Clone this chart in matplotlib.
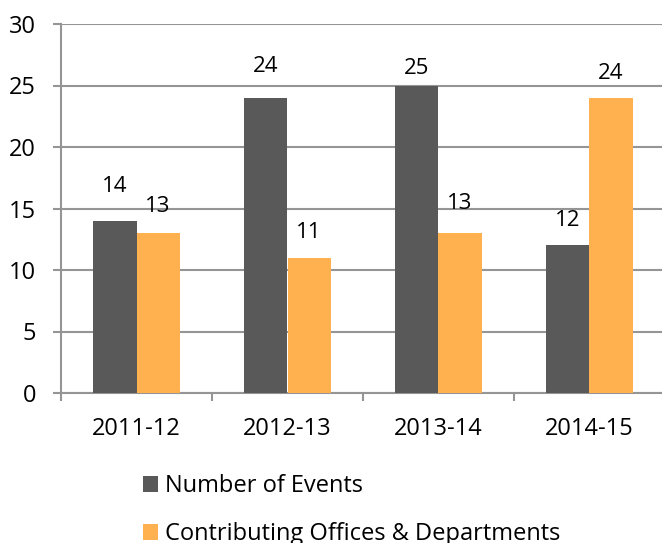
import matplotlib
matplotlib.use("Agg")
import matplotlib.pyplot as plt
import numpy as np

plt.rcParams['font.family'] = ['Open Sans', 'DejaVu Sans']

years = ["2011-12", "2012-13", "2013-14", "2014-15"]
events = [14, 24, 25, 12]
offices = [13, 11, 13, 24]

# gap (px) between each value label and its bar top, as placed in the original
events_gap = [29, 26, 12, 19]
offices_gap = [21, 20, 24, 19]

dark = "#595959"
orange = "#FFB14F"
grid = "#959595"
fs = 17

fig = plt.figure(figsize=(6.62, 5.43), dpi=100)
ax = fig.add_axes([61/662, 1 - 393/543, 604/662, 369/543])

x = np.arange(len(years))
w = 0.285
b1 = ax.bar(x - w/2, events, w, color=dark, label="Number of Events", zorder=3)
b2 = ax.bar(x + w/2, offices, w, color=orange, label="Contributing Offices & Departments", zorder=3)

for bars, gaps in ((b1, events_gap), (b2, offices_gap)):
    for r, g in zip(bars, gaps):
        ax.annotate(str(int(r.get_height())), (r.get_x() + r.get_width()/2, r.get_height()),
                    xytext=(0, g * 0.72), textcoords="offset points", ha="center",
                    va="baseline", fontsize=16, color="#000000")

ax.set_xlim(-0.5, 3.5)
ax.set_ylim(0, 30)
ax.set_yticks(range(0, 31, 5))
ax.yaxis.grid(True, color=grid, linewidth=1.5, zorder=0)
ax.set_xticks(np.arange(-0.5, 3.6, 1))
ax.set_xticklabels([])
ax.set_xticks(x, minor=True)
ax.set_xticklabels(years, minor=True)
ax.tick_params(axis="x", which="minor", length=0, pad=17, labelsize=fs)
ax.tick_params(axis="x", which="major", length=6, width=1.5, color=grid, direction="out")
ax.tick_params(axis="y", length=6, width=1.5, color=grid, pad=12, labelsize=fs)

for s in ("top", "right"):
    ax.spines[s].set_visible(False)
for s in ("left", "bottom"):
    ax.spines[s].set_color(grid)
    ax.spines[s].set_linewidth(1.5)

fig.legend(loc="upper left", bbox_to_anchor=(143/662, 1 - 474/543), frameon=False, fontsize=fs,
           handlelength=0.64, handleheight=0.64, handletextpad=0.3, labelspacing=1.02,
           borderpad=0, borderaxespad=0)

fig.savefig("out.png", dpi=100)
